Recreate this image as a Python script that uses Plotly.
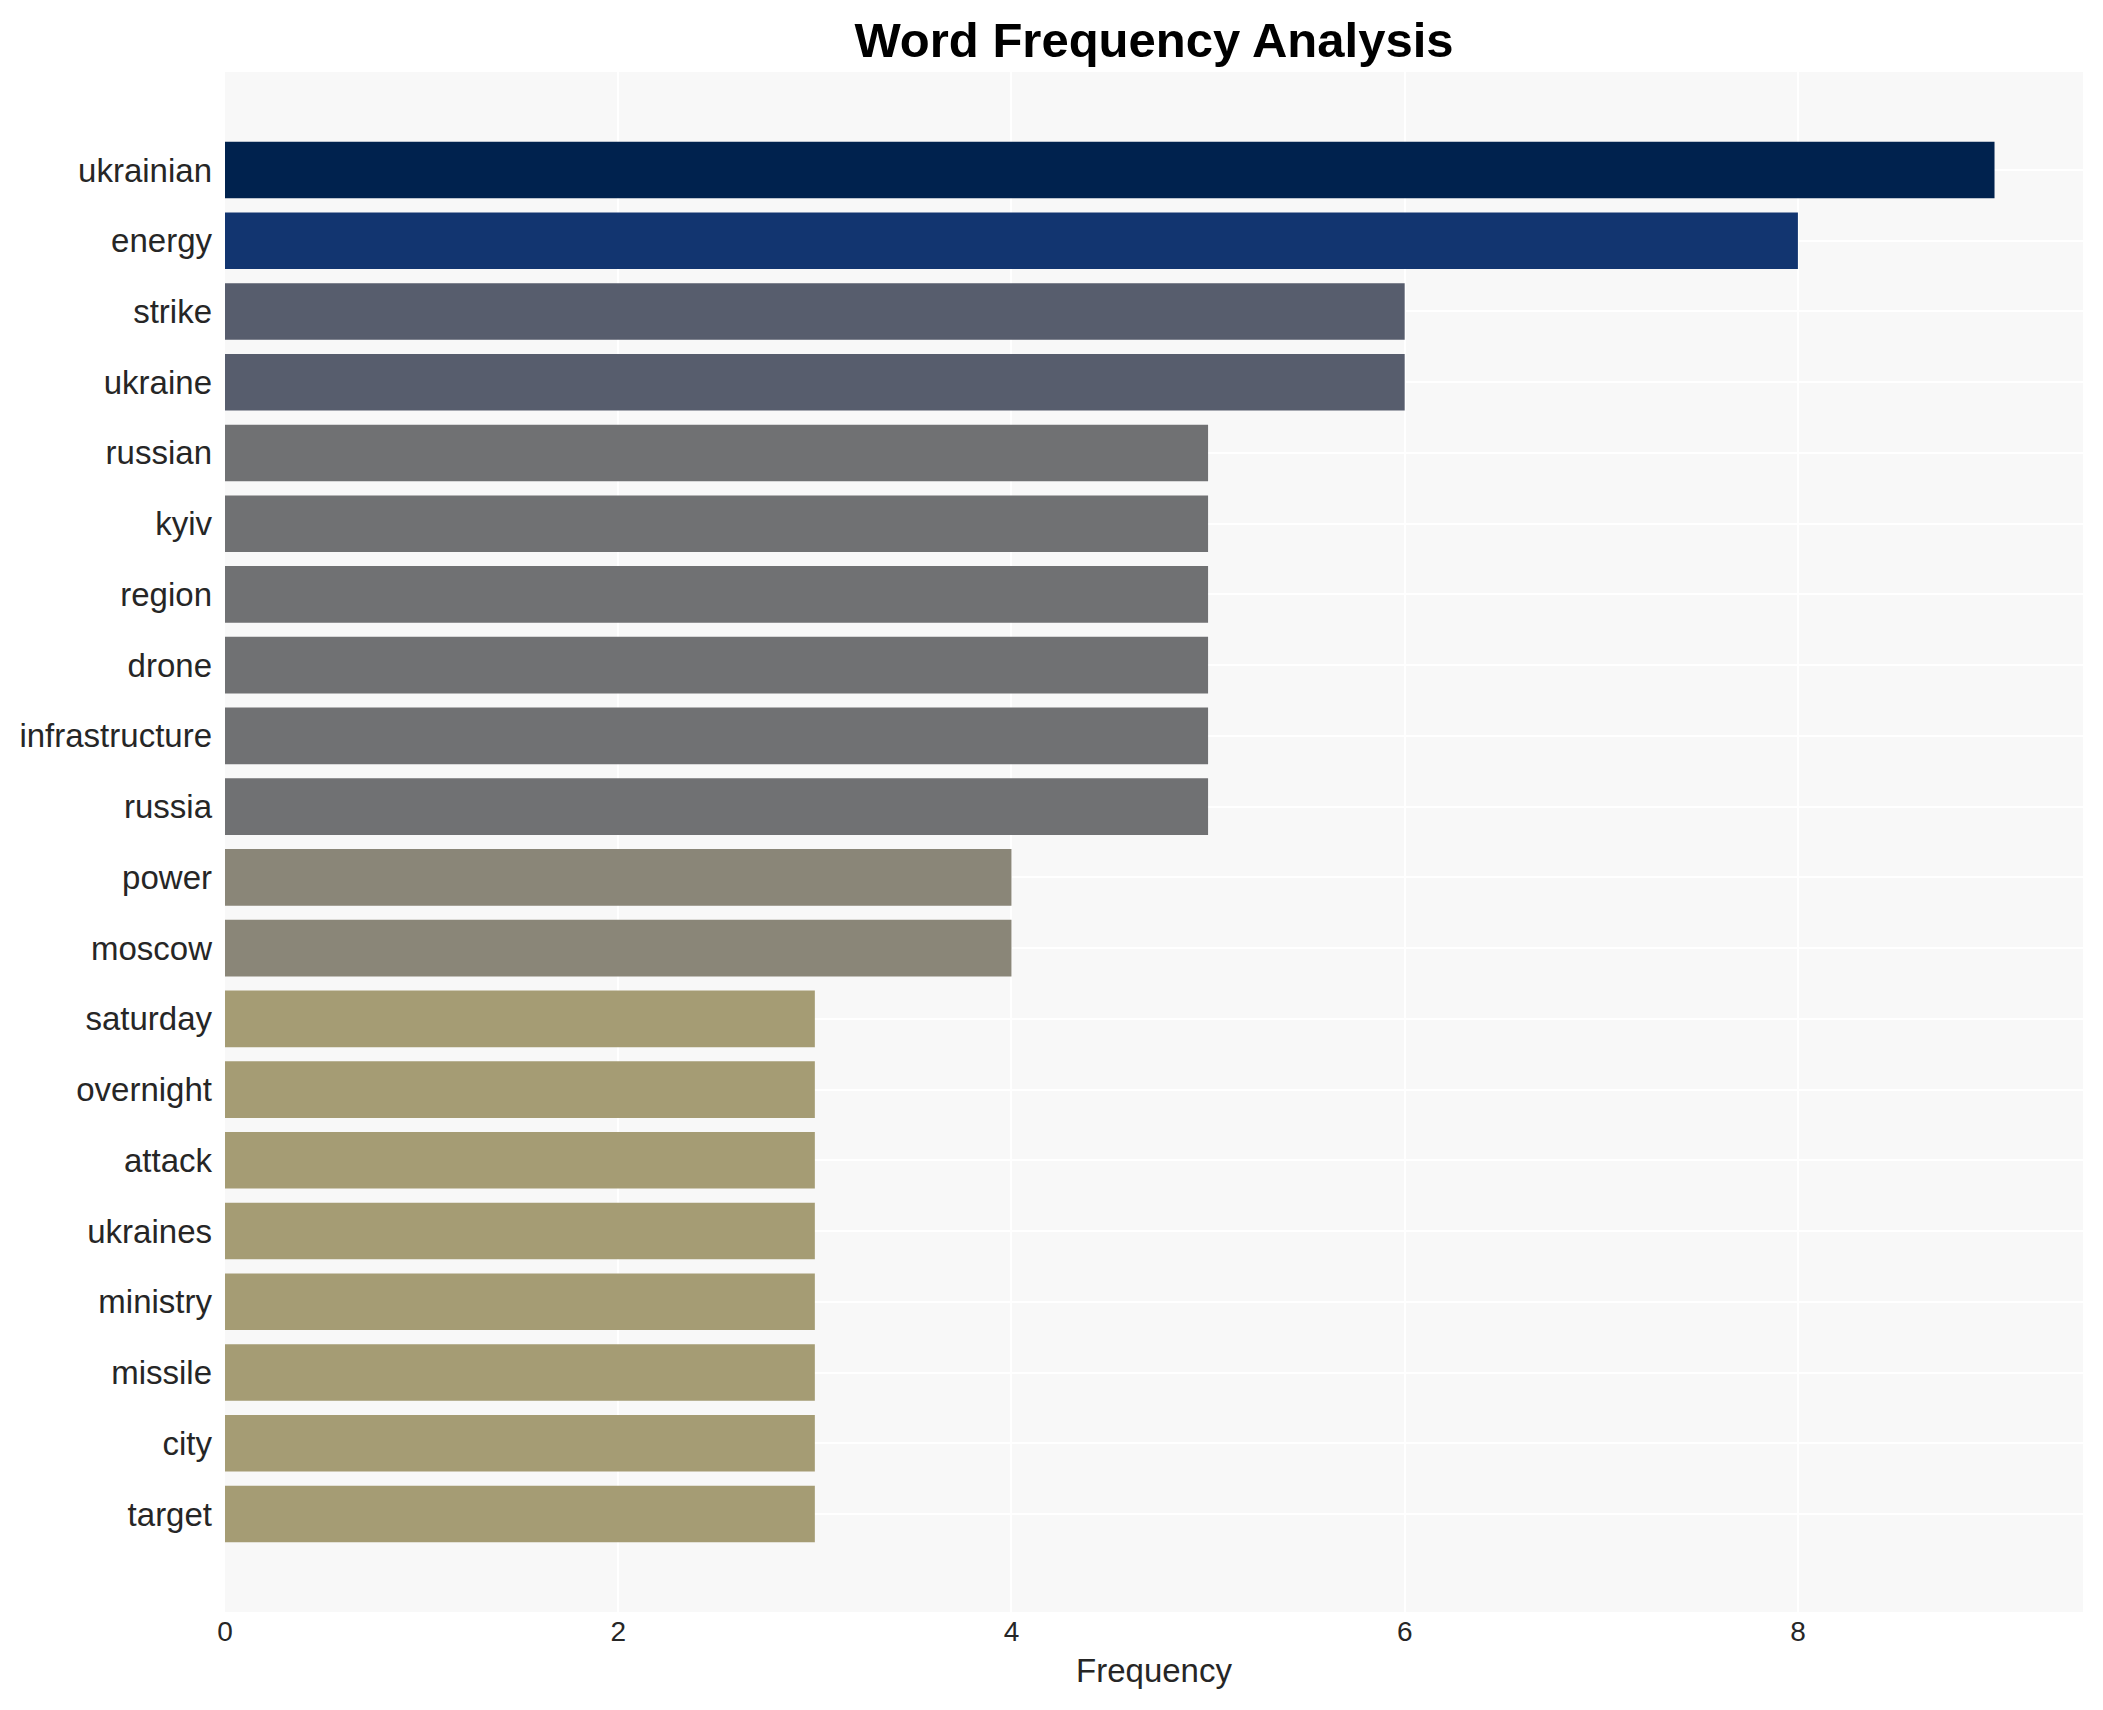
import plotly.graph_objects as go

words = ["ukrainian", "energy", "strike", "ukraine", "russian", "kyiv", "region",
         "drone", "infrastructure", "russia", "power", "moscow", "saturday",
         "overnight", "attack", "ukraines", "ministry", "missile", "city", "target"]
counts = [9, 8, 6, 6, 5, 5, 5, 5, 5, 5, 4, 4, 3, 3, 3, 3, 3, 3, 3, 3]

W, H = 2087, 1694

fig = go.Figure(
    go.Bar(
        x=counts,
        y=words,
        orientation="h",
        marker=dict(color=counts, colorscale="Cividis", reversescale=True,
                    cmin=0, cmax=9, showscale=False, line=dict(width=0)),
    )
)

fig.update_layout(
    width=W,
    height=H,
    margin=dict(l=217, r=12, t=64, b=90),
    paper_bgcolor="white",
    plot_bgcolor="#f8f8f8",
    font=dict(family="Arial, Liberation Sans, sans-serif", color="#262626"),
    title=dict(text="<b>Word Frequency Analysis</b>", x=0.5, xref="paper",
               xanchor="center", y=1 - 32 / H, yref="container",
               yanchor="middle", font=dict(size=49, color="black")),
    bargap=0.2,
    showlegend=False,
)

fig.update_xaxes(
    range=[0, 9.45],
    tickvals=[0, 2, 4, 6, 8],
    tickfont=dict(size=28),
    title=dict(text="Frequency", font=dict(size=33), standoff=12),
    showgrid=True, gridcolor="white", gridwidth=2,
    zeroline=False, showline=False, ticks="",
)
fig.update_yaxes(
    categoryorder="array", categoryarray=words,
    range=[19 + 1.385, -1.385],
    tickfont=dict(size=33),
    showgrid=True, gridcolor="white", gridwidth=2,
    showline=False, ticks="", ticklabelstandoff=12,
)

fig.write_html("out.html")
